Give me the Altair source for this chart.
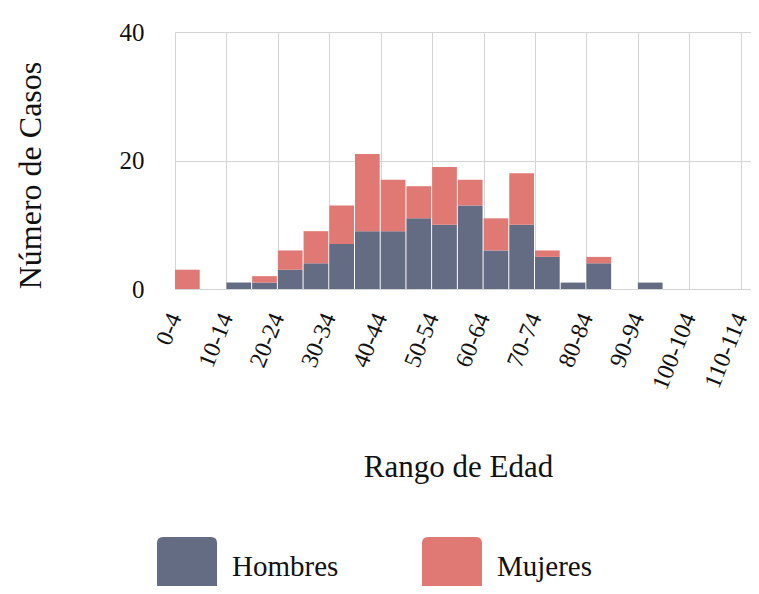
import altair as alt
import pandas as pd
import json

# --- data ---
age_ranges = ["0-4", "5-9", "10-14", "15-19", "20-24", "25-29", "30-34", "35-39",
              "40-44", "45-49", "50-54", "55-59", "60-64", "65-69", "70-74", "75-79",
              "80-84", "85-89", "90-94", "95-99", "100-104", "105-109", "110-114"]
bin_start = [0, 5, 10, 15, 20, 25, 30, 35, 40, 45, 50, 55, 60, 65, 70, 75,
             80, 85, 90, 95, 100, 105, 110]
hombres = [0, 0, 1, 1, 3, 4, 7, 9, 9, 11, 10, 13, 6, 10, 5, 1, 4, 0, 1, 0, 0, 0, 0]
mujeres = [3, 0, 0, 1, 3, 5, 6, 12, 8, 5, 9, 4, 5, 8, 1, 0, 1, 0, 0, 0, 0, 0, 0]
series = ["Hombres", "Mujeres"]
colors = ["#646c83", "#e07873"]
tick_values = [0, 10, 20, 30, 40, 50, 60, 70, 80, 90, 100, 110]
tick_labels = ["0-4", "10-14", "20-24", "30-34", "40-44", "50-54", "60-64",
               "70-74", "80-84", "90-94", "100-104", "110-114"]
y_ticks = [0, 20, 40]

rows = []
for i, rng in enumerate(age_ranges):
    base = 0
    for name, vals in ((series[0], hombres), (series[1], mujeres)):
        v = vals[i]
        if v > 0:
            rows.append({"rango": rng, "inicio": bin_start[i], "fin": bin_start[i] + 5,
                         "sexo": name, "casos": v, "base": base, "tope": base + v})
        base += v
df = pd.DataFrame(rows)

FONT = "Liberation Serif"
label_expr = json.dumps(tick_labels) + "[round(datum.value / 10)]"

rounded_square = ("M -0.8 -1 L 0.8 -1 Q 1 -1 1 -0.8 L 1 0.8 Q 1 1 0.8 1 "
                  "L -0.8 1 Q -1 1 -1 0.8 L -1 -0.8 Q -1 -1 -0.8 -1 Z")

chart = alt.Chart(df).mark_bar(x2Offset=-1).encode(
    x=alt.X("inicio:Q",
            scale=alt.Scale(domain=[0, 112], nice=False, zero=False),
            axis=alt.Axis(values=tick_values, labelExpr=label_expr,
                          labelAngle=292, labelAlign="right", labelBaseline="middle",
                          labelPadding=25, labelFontSize=24, labelFont=FONT,
                          labelColor="#111", ticks=False, domain=False,
                          grid=True, gridColor="#d4d4d4", gridWidth=1,
                          title="Rango de Edad", titleFont=FONT, titleFontSize=31,
                          titleFontWeight="normal", titleColor="#111",
                          titleX=283, titleY=178, titleAlign="center",
                          titleBaseline="middle", labelOverlap=False)),
    x2="fin:Q",
    y=alt.Y("base:Q",
            scale=alt.Scale(domain=[0, 40], nice=False),
            axis=alt.Axis(values=y_ticks, labelFontSize=25, labelFont=FONT,
                          labelColor="#111", labelPadding=31, ticks=False,
                          domain=False, grid=True, gridColor="#d4d4d4", gridWidth=1,
                          title="Número de Casos", titleFont=FONT, titleFontSize=32,
                          titleFontWeight="normal", titleColor="#111",
                          titleX=-145, titleY=143, titleAngle=270,
                          titleAlign="center", titleBaseline="middle")),
    y2="tope:Q",
    color=alt.Color("sexo:N",
                    scale=alt.Scale(domain=series, range=colors),
                    legend=alt.Legend(title=None, orient="none", direction="horizontal",
                                      legendX=-18, legendY=505, padding=0,
                                      symbolType=rounded_square, symbolSize=3600,
                                      symbolStrokeWidth=0, symbolOpacity=1,
                                      labelFont=FONT, labelFontSize=29,
                                      labelColor="#111", labelOffset=15,
                                      columnPadding=83, labelLimit=300)),
).properties(
    width=576,
    height=257,
    autosize=alt.AutoSizeParams(type="none"),
    padding={"left": 167, "top": 24, "right": 0, "bottom": 297},
).configure_view(strokeWidth=0)

chart.save("out.html", embed_options={"renderer": "svg", "actions": False})
